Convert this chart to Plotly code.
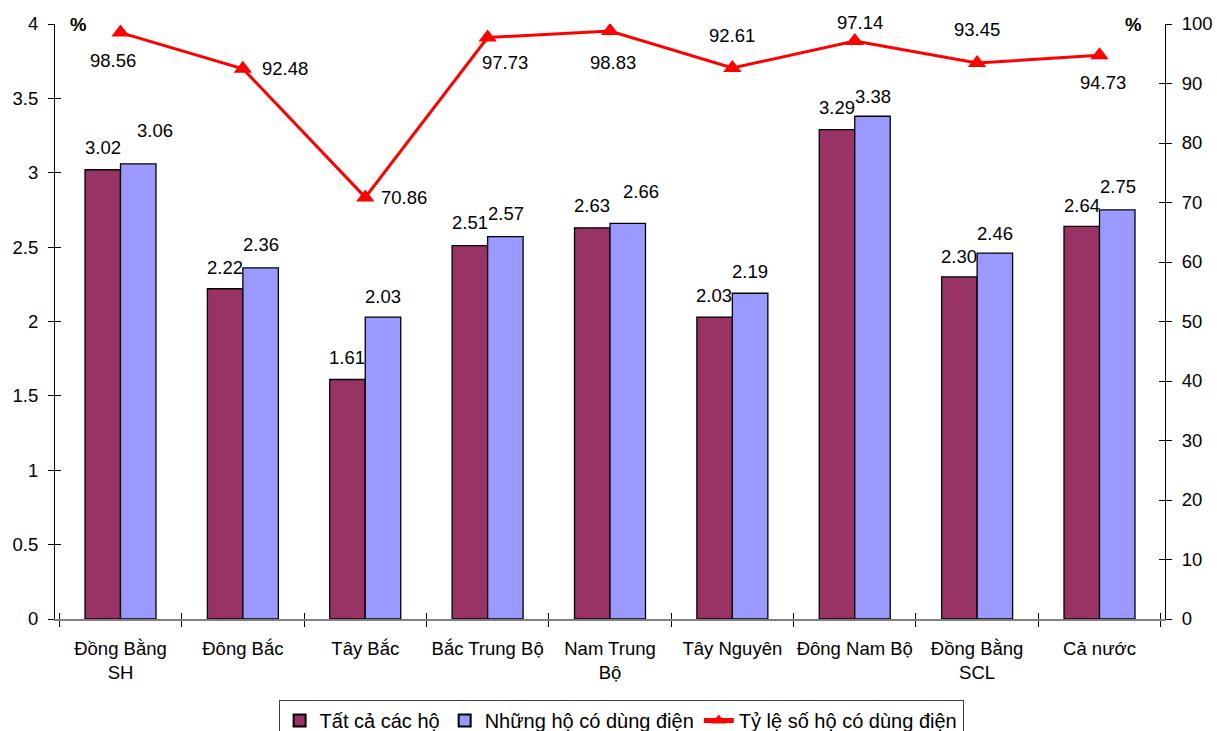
import plotly.graph_objects as go

# Regions and values
regions = ["Đồng Bằng<br>SH", "Đông Bắc", "Tây Bắc", "Bắc Trung Bộ", "Nam Trung<br>Bộ",
           "Tây Nguyên", "Đông Nam Bộ", "Đồng Bằng<br>SCL", "Cả nước"]
all_households = [3.02, 2.22, 1.61, 2.51, 2.63, 2.03, 3.29, 2.30, 2.64]
electrified_households = [3.06, 2.36, 2.03, 2.57, 2.66, 2.19, 3.38, 2.46, 2.75]
electrified_share = [98.56, 92.48, 70.86, 97.73, 98.83, 92.61, 97.14, 93.45, 94.73]

# Label offsets in pixels (dx, dy) relative to the mark
bar1_label_off = [(0, 22), (0, 21), (0, 22), (0, 23), (0, 22), (0, 22), (0, 22), (0, 20), (0, 21)]
bar2_label_off = [(16, 33), (0, 23), (0, 21), (0, 23), (13, 32), (0, 22), (0, 20), (0, 20), (0, 23)]
line_label_off = [(-8, -28), (42, 0), (39, 0), (17, -25), (3, -32), (0, 32), (5, 19), (0, 33), (3, -27)]

MAROON = "#993366"
LAVENDER = "#9999FF"
RED = "#FF0000"
FONT = "Liberation Sans, Arial, sans-serif"
FS = 18.5

fig = go.Figure()
fig.add_trace(go.Bar(x=regions, y=all_households, name="Tất cả các hộ",
                     marker=dict(color=MAROON, line=dict(color="black", width=1.3))))
fig.add_trace(go.Bar(x=regions, y=electrified_households, name="Những hộ có dùng điện",
                     marker=dict(color=LAVENDER, line=dict(color="black", width=1.3))))
fig.add_trace(go.Scatter(x=regions, y=electrified_share, name="Tỷ lệ số hộ có dùng điện",
                         yaxis="y2", mode="lines+markers",
                         line=dict(color=RED, width=3),
                         marker=dict(symbol="triangle-up", size=16, color=RED)))

# invisible helpers so the overlay axes (inner half of crossing ticks) render
fig.add_trace(go.Scatter(x=regions, y=all_households, xaxis="x2", yaxis="y3", mode="markers",
                         marker=dict(opacity=0), showlegend=False, hoverinfo="skip"))
fig.add_trace(go.Scatter(x=regions, y=electrified_share, xaxis="x2", yaxis="y4", mode="markers",
                         marker=dict(opacity=0), showlegend=False, hoverinfo="skip"))

annotations = []
for i, r in enumerate(regions):
    dx, dy = bar1_label_off[i]
    annotations.append(dict(x=r, y=all_households[i], xref="x", yref="y",
                            text=f"{all_households[i]:.2f}", showarrow=False,
                            xshift=-18 + dx, yshift=dy, font=dict(size=FS, color="black")))
    dx, dy = bar2_label_off[i]
    annotations.append(dict(x=r, y=electrified_households[i], xref="x", yref="y",
                            text=f"{electrified_households[i]:.2f}", showarrow=False,
                            xshift=18 + dx, yshift=dy, font=dict(size=FS, color="black")))
    dx, dy = line_label_off[i]
    annotations.append(dict(x=r, y=electrified_share[i], xref="x", yref="y2",
                            text=f"{electrified_share[i]:.2f}", showarrow=False,
                            xshift=dx, yshift=dy, font=dict(size=FS, color="black")))

annotations.append(dict(x=0.021, y=1.0, xref="paper", yref="paper", text="<b>%</b>",
                        xanchor="center", yanchor="middle",
                        showarrow=False, font=dict(size=FS, color="black")))
annotations.append(dict(x=0.971, y=1.0, xref="paper", yref="paper", text="<b>%</b>",
                        xanchor="center", yanchor="middle",
                        showarrow=False, font=dict(size=FS, color="black")))

tickfont = dict(size=FS, color="black", family=FONT)
fig.update_layout(
    width=1217, height=731,
    margin=dict(l=55, r=52, t=24, b=112, autoexpand=False),
    paper_bgcolor="white", plot_bgcolor="white",
    font=dict(family=FONT, size=FS, color="black"),
    barmode="group", bargap=0.42, bargroupgap=0,
    xaxis=dict(type="category", tickson="boundaries", ticks="outside", ticklen=6,
               tickcolor="black", showline=True, linecolor="#808080", linewidth=1.5,
               showgrid=False, tickfont=tickfont, zeroline=False, tickangle=0,
               ticklabelstandoff=12, automargin=False),
    xaxis2=dict(type="category", overlaying="x", anchor="y", side="bottom",
                tickson="boundaries", ticks="inside", ticklen=6, tickcolor="black",
                showticklabels=False, showline=False, showgrid=False, matches="x"),
    yaxis=dict(range=[0, 4], dtick=0.5, ticks="outside", ticklen=6, tickcolor="black",
               showline=True, linecolor="black", linewidth=1.2, showgrid=False,
               zeroline=False, tickfont=tickfont, automargin=False, ticklabelstandoff=6),
    yaxis2=dict(range=[0, 100], dtick=10, overlaying="y", side="right", ticks="outside",
                ticklen=6, tickcolor="black", showline=True, linecolor="black",
                linewidth=1.2, showgrid=False, zeroline=False, tickfont=tickfont,
                automargin=False, ticklabelstandoff=6),
    yaxis3=dict(range=[0, 4], dtick=0.5, overlaying="y", side="left", anchor="x2",
                ticks="inside", ticklen=6, tickcolor="black", showticklabels=False,
                showline=False, showgrid=False, zeroline=False),
    yaxis4=dict(range=[0, 100], dtick=10, overlaying="y", side="right", anchor="x2",
                ticks="inside", ticklen=6, tickcolor="black", showticklabels=False,
                showline=False, showgrid=False, zeroline=False),
    legend=dict(orientation="h", x=0.51, xanchor="center", y=-0.136, yanchor="top",
                bordercolor="#404040", borderwidth=1, font=dict(size=20),
                itemsizing="constant", traceorder="normal"),
    annotations=annotations,
    showlegend=True,
)

fig.write_html("out.html")
